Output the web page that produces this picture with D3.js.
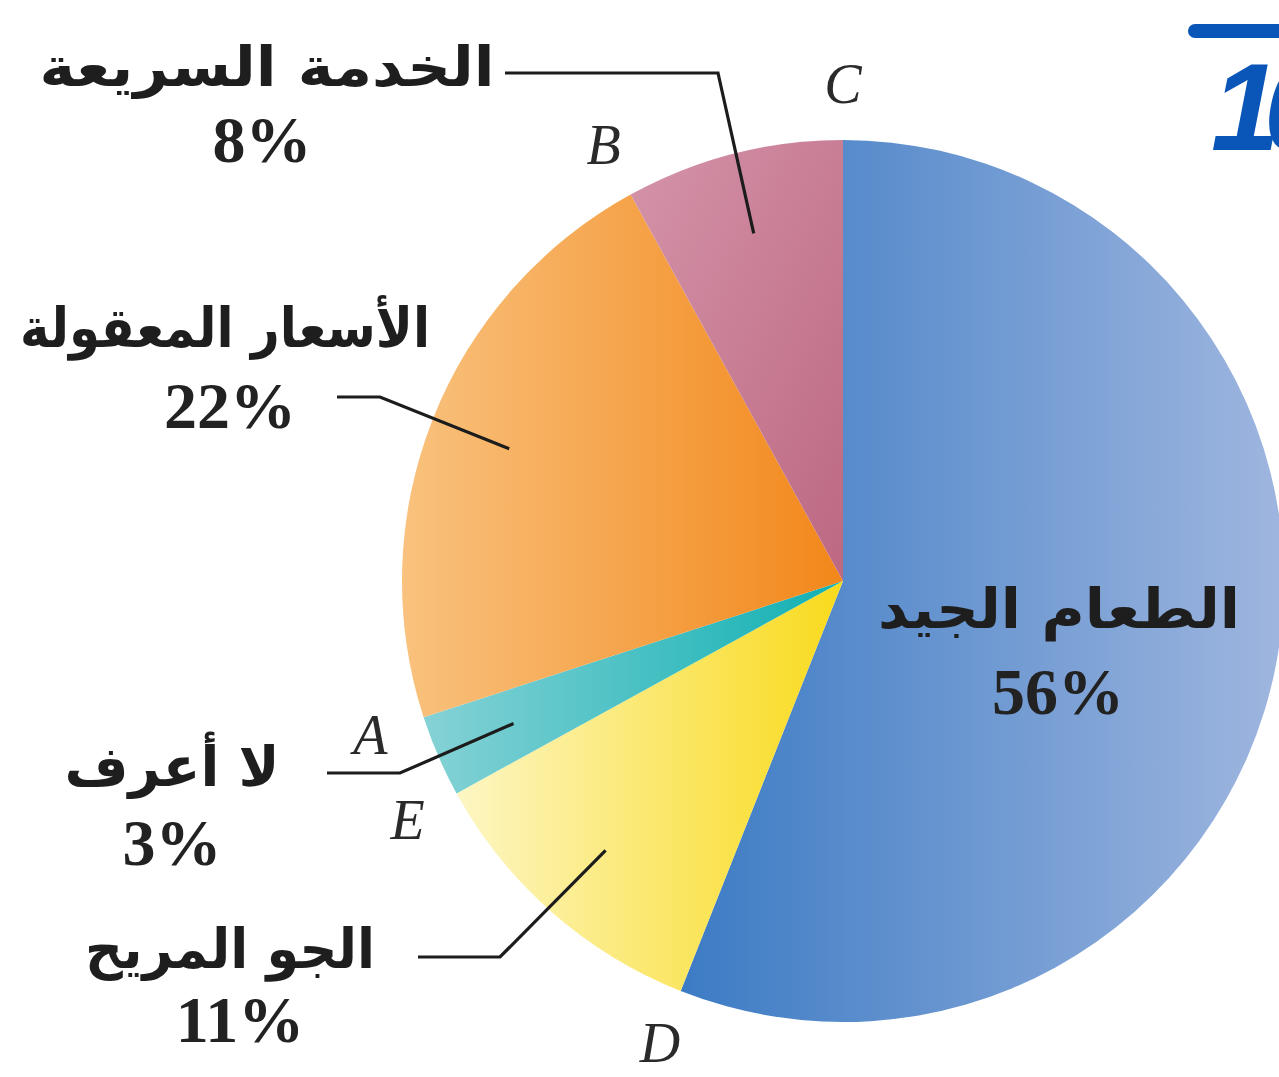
<!DOCTYPE html>
<html lang="ar">
<head>
<meta charset="utf-8">
<script src="https://cdn.jsdelivr.net/npm/d3@7"></script>
<style>
  html, body { margin: 0; padding: 0; background: #fff; overflow: hidden; }
  svg { display: block; }
</style>
</head>
<body>
<svg id="chart" width="1279" height="1077"></svg>
<script>
// Survey: reasons for choosing a restaurant (percent of answers)
const categories = ["الطعام الجيد", "الجو المريح", "لا أعرف", "الأسعار المعقولة", "الخدمة السريعة"];
const values = [56, 11, 3, 22, 8];
const valueLabels = ["56%", "11%", "3%", "22%", "8%"];
// Letters marking the boundary point where each slice starts (clockwise from the top)
const pointLetters = ["C", "D", "E", "A", "B"];

// Fill gradients per slice: [left colour, right colour]
const sliceColors = [
  ["#3c7bc4", "#9fb6df"],
  ["#fdf6c4", "#f9da1c"],
  ["#86d2d6", "#10b0b2"],
  ["#f9c27e", "#f2871a"],
  ["#d494a9", "#bd6882"]
];

const width = 1279, height = 1077;
const cx = 843, cy = 581, R = 441;

const svg = d3.select("#chart");
const defs = svg.append("defs");

sliceColors.forEach((c, i) => {
  const g = defs.append("linearGradient")
    .attr("id", "grad" + i)
    .attr("x1", 0).attr("y1", 0)
    .attr("x2", 1).attr("y2", i === 4 ? 1 : 0);
  g.append("stop").attr("offset", "0%").attr("stop-color", c[0]);
  g.append("stop").attr("offset", "100%").attr("stop-color", c[1]);
});

const pie = d3.pie().sort(null).value(d => d)
  .startAngle(0).endAngle(2 * Math.PI);
const arcs = pie(values);
const arc = d3.arc().innerRadius(0).outerRadius(R);
const leaderArc = d3.arc().innerRadius(359).outerRadius(359);

const g = svg.append("g").attr("transform", `translate(${cx},${cy})`);

g.selectAll("path.slice")
  .data(arcs)
  .join("path")
  .attr("class", "slice")
  .attr("d", arc)
  .attr("fill", (d, i) => `url(#grad${i})`);

// Boundary letters
const letterR = 497;
g.selectAll("text.pt")
  .data(arcs)
  .join("text")
  .attr("class", "pt")
  .attr("x", d => Math.sin(d.startAngle) * letterR)
  .attr("y", d => -Math.cos(d.startAngle) * letterR)
  .attr("text-anchor", "middle")
  .attr("dominant-baseline", "central")
  .attr("font-family", "'Liberation Serif', 'DejaVu Serif', serif")
  .attr("font-style", "italic")
  .attr("font-size", 56)
  .attr("fill", "#2a2a2a")
  .text((d, i) => pointLetters[i]);

// Label placement: text centre, baselines, name width and leader elbow (page coordinates)
const labelLayout = [
  { x: 1059, nameY: 628, nameW: 362, pctX: 1058, pctY: 714, leader: null },
  { x: 230, nameY: 968, nameW: 290, pctX: 240, pctY: 1042, leader: [[418, 957], [500, 957]] },
  { x: 172, nameY: 786, nameW: 215, pctX: 172, pctY: 865, leader: [[327, 773], [400, 773]] },
  { x: 225, nameY: 347, nameW: 410, pctX: 230, pctY: 428, leader: [[337, 397], [380, 397]] },
  { x: 267, nameY: 86, nameW: 455, pctX: 262, pctY: 162, leader: [[505, 73], [718, 73]] }
];

const labels = svg.append("g");

arcs.forEach((d, i) => {
  const L = labelLayout[i];
  if (L.leader) {
    const c = leaderArc.centroid(d);
    const pts = L.leader.concat([[cx + c[0], cy + c[1]]]);
    labels.append("path")
      .attr("d", d3.line()(pts))
      .attr("fill", "none")
      .attr("stroke", "#1c1c1c")
      .attr("stroke-width", 3.2);
  }
  labels.append("text")
    .attr("x", L.x).attr("y", L.nameY)
    .attr("text-anchor", "middle")
    .attr("direction", "rtl")
    .attr("font-family", "'DejaVu Sans', sans-serif")
    .attr("font-weight", "bold")
    .attr("font-size", 55)
    .attr("textLength", L.nameW)
    .attr("lengthAdjust", "spacingAndGlyphs")
    .attr("fill", "#1e1e1e")
    .text(categories[i]);
  labels.append("text")
    .attr("x", L.pctX).attr("y", L.pctY)
    .attr("text-anchor", "middle")
    .attr("font-family", "'Liberation Serif', 'DejaVu Serif', serif")
    .attr("font-weight", "bold")
    .attr("font-size", 66)
    .attr("fill", "#222")
    .text(valueLabels[i]);
});

// Page-corner fraction mark
const mark = svg.append("g").attr("fill", "#0a55b8");
mark.append("rect").attr("x", 1188).attr("y", 24).attr("width", 100).attr("height", 14).attr("rx", 7);
mark.append("text")
  .attr("x", 1211).attr("y", 150)
  .attr("font-family", "'Liberation Sans', sans-serif")
  .attr("font-weight", "bold")
  .attr("font-style", "italic")
  .attr("font-size", 124)
  .attr("letter-spacing", -16)
  .text("10");
</script>
</body>
</html>
